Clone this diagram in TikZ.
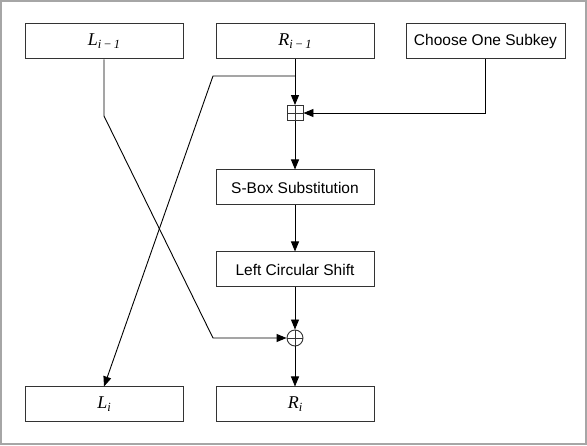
\documentclass[tikz,border=0pt]{standalone}
\usepackage{fontspec}
\setmainfont{Liberation Serif}
\newfontfamily\labelsans{Liberation Sans}
\usetikzlibrary{arrows.meta}
\newcommand{\segname}[2]{{\rmfamily\fontsize{18}{18}\selectfont\itshape #1}{\rmfamily\fontsize{12.5}{12.5}\selectfont\raisebox{-3pt}{\itshape #2}}}
\tikzset{
  blockbox/.style={draw=black!80, line width=1pt, minimum width=158pt, minimum height=35pt, inner sep=0pt, font=\labelsans\fontsize{15.5}{15.5}\selectfont},
  conn/.style={line width=0.9pt, black},
  arr/.style={conn, -{Triangle[length=10pt,width=8pt]}},
  boxplusnode/.style={draw=black!80, line width=0.9pt, minimum width=16pt, minimum height=15pt, inner sep=0pt,
    path picture={\draw[line width=0.8pt,black!80] (path picture bounding box.north) -- (path picture bounding box.south)
      (path picture bounding box.west) -- (path picture bounding box.east);}},
  oplusnode/.style={circle, draw=black!80, line width=0.9pt, minimum size=16pt, inner sep=0pt,
    path picture={\draw[line width=0.8pt,black!80] (path picture bounding box.north) -- (path picture bounding box.south)
      (path picture bounding box.west) -- (path picture bounding box.east);}},
}
\begin{document}
\begin{tikzpicture}[x=1pt,y=-1pt]
\useasboundingbox (0,0) rectangle (587,446);
\draw[gray!70, line width=2pt] (1,1) rectangle (586,444);

\node[blockbox] (Lm1) at (104,41.5) {\segname{L}{i\,−\,1}};
\node[blockbox] (Rm1) at (295,41.5) {\segname{R}{i\,−\,1}};
\node[blockbox, minimum width=159pt] (key) at (485.5,41.5) {Choose One Subkey};
\node[boxplusnode] (bp) at (295,113) {};
\node[blockbox] (sbox) at (295,187.5) {S-Box Substitution};
\node[blockbox] (lcs) at (295,269.5) {Left Circular Shift};
\node[oplusnode] (op) at (295,338) {};
\node[blockbox] (Li) at (104,404.5) {\segname{L}{i}};
\node[blockbox] (Ri) at (295,404.5) {\segname{R}{i}};

\coordinate (br) at (295,76);
\coordinate (brl) at (213,76);
\coordinate (keyc) at (485.5,113);
\coordinate (lbend) at (104,116);
\coordinate (lcross) at (213,338);

\draw[arr] (Rm1.south) -- (bp.north);
\draw[arr] (br) -- (brl) -- (Li.north);
\draw[arr] (key.south) -- (keyc) -- (bp.east);
\draw[arr] (bp.south) -- (sbox.north);
\draw[arr] (sbox.south) -- (lcs.north);
\draw[arr] (lcs.south) -- (op.north);
\draw[arr] (Lm1.south) -- (lbend) -- (lcross) -- (op.west);
\draw[arr] (op.south) -- (Ri.north);
\end{tikzpicture}
\end{document}
